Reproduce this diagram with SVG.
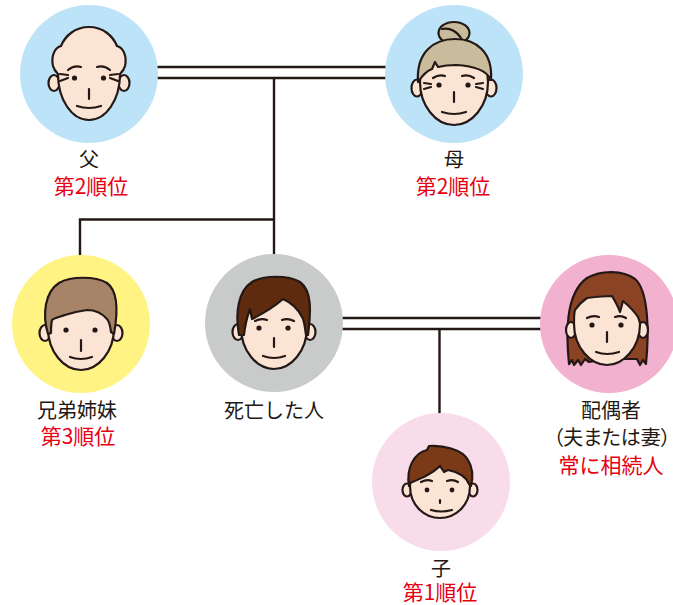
<svg xmlns="http://www.w3.org/2000/svg" width="673" height="605" viewBox="0 0 673 605">
  <style>
    .ln { fill:none; stroke:#231815; stroke-width:2.4; }
    .o { stroke:#231815; stroke-width:2.2; stroke-linejoin:round; stroke-linecap:round; }
    .f { fill:none; }
    .skin { fill:#FCE4D4; }
    .eye { fill:#231815; }
    .lbl { font-family:"Noto Sans CJK JP","Noto Sans",sans-serif; font-size:20px; fill:#231815; text-anchor:middle; }
    .rank { fill:#E60012; font-size:21px; }
    .palt { font-feature-settings:"palt"; }
  </style>

  <!-- family connectors -->
  <g id="connectors">
    <line class="ln" x1="155" y1="67" x2="390" y2="67"/>
    <line class="ln" x1="155" y1="78" x2="390" y2="78"/>
    <line class="ln" x1="274" y1="78" x2="274" y2="256"/>
    <polyline class="ln" points="274,219.5 80,219.5 80,258"/>
    <line class="ln" x1="338" y1="318" x2="545" y2="318"/>
    <line class="ln" x1="338" y1="329" x2="545" y2="329"/>
    <line class="ln" x1="439.5" y1="329" x2="439.5" y2="416"/>
  </g>

  <!-- father -->
  <g id="father">
    <circle cx="89" cy="74" r="69" fill="#BDE3F8"/>
    <g transform="translate(89,74)">
      <ellipse class="o skin" cx="-35" cy="9" rx="5.5" ry="8"/>
      <ellipse class="o skin" cx="35" cy="9" rx="5.5" ry="8"/>
      <path id="baldHead" class="skin" d="M0,-47 C-14,-47 -24,-38 -28,-28 C-35,-26 -38,-17 -36,-8 C-35,-4 -33,-2 -31,0 C-31,26 -17,46 0,46 C17,46 31,26 31,0 C33,-2 35,-4 36,-8 C38,-17 35,-26 28,-28 C24,-38 14,-47 0,-47Z"/>
      <path fill="#C9BC9C" d="M-28,-28 C-35,-26 -38,-17 -36,-8 C-35,-4 -33,-2 -31,0 C-30,-10 -30,-20 -28,-28Z"/>
      <path fill="#C9BC9C" d="M28,-28 C35,-26 38,-17 36,-8 C35,-4 33,-2 31,0 C30,-10 30,-20 28,-28Z"/>
      <use href="#baldHead" class="o f"/>
      <circle class="eye" cx="-14.5" cy="4" r="2.6"/>
      <circle class="eye" cx="14.5" cy="4" r="2.6"/>
      <path class="o f" d="M-21,-4 Q-15,-9 -8,-7 M8,-7 Q15,-9 21,-4 M-29,0 L-21,1 M-29,7 L-21,4 M29,0 L21,1 M29,7 L21,4 M0,15 L0,25 M-12,32 Q0,36 12,32"/>
    </g>
    <text class="lbl" x="89" y="167">父</text>
    <text class="lbl rank" x="91" y="194">第2順位</text>
  </g>

  <!-- mother -->
  <g id="mother">
    <circle cx="454" cy="74" r="69" fill="#BDE3F8"/>
    <g transform="translate(454,74)">
      <ellipse class="o skin" cx="-37" cy="14" rx="5.5" ry="8.5"/>
      <ellipse class="o skin" cx="37" cy="14" rx="5.5" ry="8.5"/>
      <path class="o skin" d="M-34,8 C-34,32 -18,51 0,51 C18,51 34,32 34,8 C34,-18 20,-28 0,-28 C-20,-28 -34,-18 -34,8Z"/>
      <ellipse class="o" fill="#C9BC9C" cx="0" cy="-41" rx="15.5" ry="11"/>
      <path class="o f" d="M-12,-45 C-4,-47 4,-42 8,-34"/>
      <path class="o" fill="#C9BC9C" d="M-36,8 C-38,-22 -20,-35 1,-35 C22,-35 39,-22 37,6 C33,-3 22,-8 2,-9 C-6,-9 -12,-8 -16,-7 L-19,-12 L-22,-5 C-28,-3 -32,2 -36,8Z"/>
      <circle class="eye" cx="-15" cy="11" r="2.6"/>
      <circle class="eye" cx="14" cy="11" r="2.6"/>
      <path class="o f" d="M-21,4 Q-15,0 -9,2 M8,2 Q14,0 20,4 M-30,9 L-23,10 M-30,15 L-23,13 M29,9 L22,10 M29,15 L22,13 M0,18 L0,28 M-12,38 Q0,42 12,38"/>
    </g>
    <text class="lbl" x="454" y="167">母</text>
    <text class="lbl rank" x="453" y="194">第2順位</text>
  </g>

  <!-- siblings -->
  <g id="siblings">
    <circle cx="81" cy="324" r="69" fill="#FFF383"/>
    <g transform="translate(81,324)">
      <ellipse class="o skin" cx="-36" cy="9" rx="5.5" ry="8"/>
      <ellipse class="o skin" cx="36" cy="9" rx="5.5" ry="8"/>
      <path class="o skin" d="M-33,4 C-33,28 -17,46 0,46 C17,46 33,28 33,4 C33,-26 18,-40 0,-40 C-18,-40 -33,-26 -33,4Z"/>
      <path class="o" fill="#A78467" d="M-33,10 C-39,-10 -36,-32 -22,-41 C-10,-48 14,-48 26,-41 C37,-33 37,-12 33,10 L30,8 C29,0 28,-3 26,-5 C20,-12 12,-14 6,-14 C-2,-13 -10,-11 -16,-9 C-22,-7 -27,-6 -29,-4 C-30,0 -30,5 -30,9Z"/>
      <circle class="eye" cx="-15" cy="6" r="2.6"/>
      <circle class="eye" cx="14" cy="6" r="2.6"/>
      <path class="o f" d="M0,16 L0,27 M-11,33 Q0,37 11,33"/>
    </g>
    <text class="lbl" x="77" y="418">兄弟姉妹</text>
    <text class="lbl rank" x="78" y="444">第3順位</text>
  </g>

  <!-- deceased -->
  <g id="deceased">
    <circle cx="274" cy="323" r="69" fill="#C9CACA"/>
    <g transform="translate(274,323)">
      <ellipse class="o skin" cx="-36" cy="9" rx="5.5" ry="8"/>
      <ellipse class="o skin" cx="36" cy="9" rx="5.5" ry="8"/>
      <path class="o skin" d="M-33,4 C-33,28 -17,46 0,46 C17,46 33,28 33,4 C33,-26 18,-40 0,-40 C-18,-40 -33,-26 -33,4Z"/>
      <path class="o f" d="M-19,-2 Q-13,-5 -7,-3 M8,-3 Q14,-5 20,-2"/>
      <path class="o" fill="#5F2B0E" d="M-35,12 C-39,-10 -36,-32 -22,-41 C-10,-48 14,-48 26,-41 C38,-32 37,-12 34,12 L32,12 C31,4 30,-4 28,-6 C24,-14 18,-20 9,-24 C0,-16 -10,-10 -22,-4 L-24,-14 C-27,-6 -29,2 -30,12Z"/>
      <circle class="eye" cx="-15" cy="5" r="2.6"/>
      <circle class="eye" cx="14" cy="5" r="2.6"/>
      <path class="o f" d="M0,15 L0,24 M-11,33 Q0,37 11,33"/>
    </g>
    <text class="lbl" x="274" y="418">死亡した人</text>
  </g>

  <!-- spouse -->
  <g id="spouse">
    <circle cx="609" cy="324" r="69" fill="#F2B2CF"/>
    <g transform="translate(607,324)">
      <path class="o" fill="#8B4423" d="M-38,40 C-41,10 -42,-30 -20,-46 C-6,-54 16,-54 28,-45 C42,-33 42,10 39,40 L36,36 L33,41 L30,35 L0,35 L-18,38 L-22,35 L-26,41 L-29,36 L-33,41 L-35,36Z"/>
      <ellipse class="o skin" cx="-36" cy="6" rx="5" ry="8"/>
      <ellipse class="o skin" cx="36" cy="6" rx="5" ry="8"/>
      <path class="o skin" d="M-33,-2 C-33,-8 -33,-11 -32,-14 C-30,-17 -26,-22 -20,-26 C-12,-27 -2,-28 5,-28 C8,-23 11,-18 13,-12 L16,-23 C22,-18 27,-13 31,-7 C32,-4 33,-2 33,0 C33,24 16,41 0,41 C-16,41 -33,24 -33,0Z"/>
      <circle class="eye" cx="-15" cy="1" r="2.6"/>
      <circle class="eye" cx="14" cy="1" r="2.6"/>
      <path class="o f" d="M-20,-6 Q-14,-9 -8,-7 M8,-7 Q14,-9 19,-6 M0,8 L0,18 M-11,28 Q0,32 12,28"/>
    </g>
    <text class="lbl" x="611" y="418">配偶者</text>
    <text class="lbl palt" x="612" y="445">（夫または妻）</text>
    <text class="lbl rank" x="611" y="473">常に相続人</text>
  </g>

  <!-- child -->
  <g id="child">
    <circle cx="441" cy="482" r="69" fill="#F9DCEA"/>
    <g transform="translate(440,482)">
      <ellipse class="o skin" cx="-33" cy="8" rx="4.5" ry="6.5"/>
      <ellipse class="o skin" cx="33" cy="8" rx="4.5" ry="6.5"/>
      <path class="o skin" d="M-30,4 C-30,24 -15,36 0,36 C15,36 30,24 30,4 C30,-22 15,-33 0,-33 C-15,-33 -30,-22 -30,4Z"/>
      <path class="o f" d="M-19,0 Q-13,-3 -8,-1 M7,-1 Q13,-3 18,0"/>
      <path class="o" fill="#7A3A17" d="M-31,4 C-34,-14 -26,-29 -13,-32 L-11,-36 C2,-37 22,-33 28,-22 C33,-14 33,-4 31,4 L29,2 C26,-5 18,-10 8,-12 L4,-10 L0,-16 C-8,-8 -18,-4 -30,1Z"/>
      <circle class="eye" cx="-13" cy="8" r="2.4"/>
      <circle class="eye" cx="12" cy="8" r="2.4"/>
      <path class="o f" d="M0,18 L0,21 M-9,28 Q1,31 12,28"/>
    </g>
    <text class="lbl" x="441" y="576">子</text>
    <text class="lbl rank" x="440" y="600">第1順位</text>
  </g>
</svg>
